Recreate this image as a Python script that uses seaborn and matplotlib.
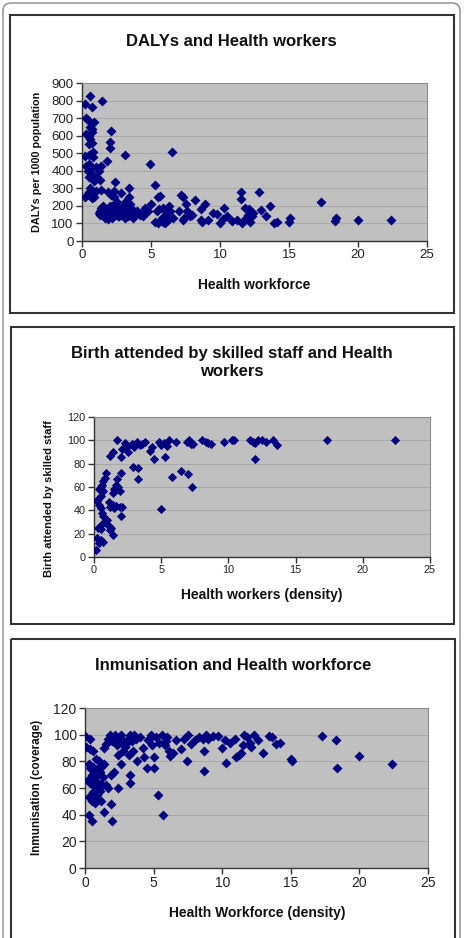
import numpy as np
import pandas as pd
import matplotlib
matplotlib.use("Agg")
import matplotlib.pyplot as plt
import seaborn as sns
from matplotlib.patches import Rectangle, FancyBboxPatch

# -------------------- DATA --------------------
# DALYs per 1000 population vs health workforce density
daly_x = [0.24, 0.56, 0.72, 1.47, 0.3, 0.4, 0.87, 0.6, 0.7, 0.3, 0.5, 0.7, 0.6, 0.75, 0.5,
          2.08, 2.0, 2.0, 0.8, 0.2, 0.5, 0.8, 1.83, 3.09, 6.52, 4.9,
          0.5, 0.65, 0.4, 0.75, 0.5, 1.0, 1.2, 1.35, 1.1, 1.3, 0.9, 0.6, 0.3,
          2.37, 5.3, 3.38, 0.2, 0.5, 0.6, 0.8, 0.9, 1.0, 1.4, 1.9, 2.13, 2.8, 0.4, 0.7, 2.3,
          3.4, 5.63, 5.5, 7.2, 7.35, 8.17,
          11.5, 11.55, 12.8, 13.6, 17.3, 18.3, 18.4, 20.0, 22.4, 15.1, 15.0, 14.1, 13.9, 13.3,
          13.0, 12.3, 12.1, 11.8, 12.2, 11.6, 11.2, 10.9, 10.5, 10.3, 10.0, 9.8, 9.5, 8.9, 8.6, 8.7,
          8.0, 7.8, 7.6, 7.5, 7.3, 7.0, 6.2, 6.3, 6.0, 5.8, 5.6, 5.3, 5.4, 5.0, 4.8, 4.5, 4.2,
          3.9, 3.6, 3.5, 3.3, 3.1, 3.0, 2.8, 2.6, 2.5, 2.3, 2.2, 2.1, 2.0, 1.8, 1.7, 1.6, 1.4,
          1.3, 1.2, 1.9, 2.4, 2.7, 3.2, 3.7, 4.0, 4.6, 5.9, 6.1, 6.4, 6.6, 9.1, 11.9, 12.4,
          1.5, 1.7, 2.0, 2.5, 2.9, 3.4, 3.6, 5.5, 5.9, 7.4, 8.6, 10.2, 12.0, 6.0, 4.3, 1.3,
          1.5, 2.2, 3.3, 3.5, 1.6, 2.3, 2.6, 3.1, 3.8, 4.4, 1.9, 2.9]
daly_y = [780, 824, 761, 796, 700, 690, 680, 650, 640, 610, 600, 620, 580, 560, 550,
          626, 564, 530, 505, 484, 490, 480, 457, 492, 507, 438,
          440, 420, 400, 380, 365, 420, 400, 430, 360, 345, 340, 410, 430,
          336, 317, 303, 249, 280, 300, 270, 250, 287, 290, 280, 264, 273, 265, 245, 285,
          250, 255, 250, 260, 250, 232,
          280, 240, 280, 200, 220, 115, 130, 120, 120, 130, 110, 110, 100, 140,
          175, 140, 180, 190, 110, 105, 120, 115, 140, 190, 105, 155, 160, 210, 185, 110,
          150, 140, 170, 210, 120, 170, 120, 200, 170, 130, 180, 110, 170, 210, 170, 160, 150,
          155, 180, 210, 140, 160, 200, 150, 180, 220, 250, 130, 160, 200, 140, 180, 150, 190,
          170, 160, 180, 150, 140, 230, 130, 170, 190, 190, 150, 170, 130, 120, 130, 160,
          160, 130, 145, 165, 175, 195, 160, 100, 110, 130, 120, 125, 150, 100, 155, 150,
          200, 200, 210, 170, 175, 190, 140, 130, 150, 145, 125, 160]

# Births attended by skilled staff (%) vs health workers density
birth_x = [0.17, 0.2, 0.5, 0.7, 0.4, 0.3, 0.5,
           0.2, 0.3, 0.5, 0.4, 0.5, 0.6, 0.7, 0.8, 0.6, 1.0, 1.1, 1.2, 1.4, 1.3,
           0.4, 0.5, 0.6, 0.7, 0.8, 0.9, 0.7,
           1.1, 1.2, 1.4, 1.5, 1.6, 1.9, 2.1, 2.0,
           1.4, 1.5, 1.6, 1.7, 1.8, 1.9, 2.0,
           1.2, 1.4, 2.0, 1.7, 2.1, 2.3, 2.5, 2.5, 2.8, 3.0, 3.2, 3.4, 3.6, 3.8, 2.9, 3.3, 3.3,
           4.2, 4.3, 4.5, 4.8, 5.0, 5.2, 5.4, 5.6, 5.3, 5.8, 6.1, 6.5, 6.9, 7.1, 7.0, 7.2, 7.3,
           7.4, 5.0, 8.0, 8.3, 8.5, 8.7, 9.7, 10.3, 10.4, 11.6, 11.8, 12.0, 12.2, 12.5, 12.8,
           13.3, 13.6, 12.0, 17.3, 22.4]
birth_y = [6, 16, 15, 13, 12, 25, 24,
           48, 50, 52, 45, 42, 38, 35, 30, 28, 32, 27, 23, 19, 25,
           58, 60, 62, 57, 68, 72, 65,
           47, 43, 45, 42, 44, 43, 43, 35,
           55, 58, 62, 67, 60, 57, 72,
           87, 90, 86, 100, 93, 98, 95, 90, 97, 94, 99, 96, 97, 99, 77, 76, 67,
           91, 94, 84, 99, 96, 98, 95, 100, 86, 69, 99, 74, 99, 100, 71, 97, 60,
           97, 41, 100, 99, 98, 97, 99, 100, 100, 100, 99, 98, 100, 100, 99,
           100, 96, 84, 100, 100]

# Immunisation coverage (%) vs health workforce density
immu_x = [0.0, 0.1, 0.4, 0.4, 0.6,
          0.3, 0.4, 0.6, 0.8, 1.0, 1.2, 1.4, 0.5, 0.9, 1.1, 1.3, 0.4, 0.6, 0.8, 1.0, 1.2,
          0.3, 0.5, 0.7, 0.9, 1.1, 1.5, 1.7, 1.9, 2.1, 2.4, 1.9, 1.2, 0.3, 0.5, 1.4, 2.0, 0.7,
          1.4, 1.5, 1.7, 1.8, 2.0, 2.2, 2.3, 2.4, 2.5, 2.6, 2.8, 2.6, 3.0, 3.1, 3.2, 3.3,
          3.4, 3.5, 3.6, 3.7, 3.8, 4.0, 4.2, 4.3, 4.5, 4.6, 4.8, 4.9, 5.0, 5.0, 5.2, 5.4,
          5.6, 5.8, 6.0, 6.1, 6.2, 6.4, 6.6, 7.0, 7.2, 7.4, 7.5, 7.7, 8.0, 8.3, 8.6, 8.7,
          8.8, 9.0, 9.3, 9.7, 10.0, 10.2, 10.3, 10.6, 10.9, 11.0, 11.2, 11.4, 11.5, 11.6,
          11.8, 12.0, 12.1, 12.3, 12.6, 13.0, 13.4, 13.6, 13.9, 14.2, 15.0, 15.1, 17.3,
          18.3, 18.4, 20.0, 22.4, 8.7, 5.3, 5.7, 3.3, 3.3,
          0.2, 0.6, 0.9, 0.5, 0.8, 2.7, 2.9, 4.7, 5.9]
immu_y = [99, 91, 97, 89, 88,
          78, 75, 76, 82, 80, 76, 78, 70, 70, 72, 68, 64, 62, 65, 60, 63,
          53, 50, 52, 55, 58, 62, 60, 70, 72, 60, 48, 50, 40, 35, 42, 35, 49,
          90, 93, 97, 100, 95, 100, 92, 85, 97, 100, 88, 78, 93, 97, 85, 100,
          95, 88, 100, 97, 80, 98, 90, 83, 75, 96, 100, 92, 83, 75, 98, 94,
          100, 92, 98, 88, 84, 86, 96, 89, 97, 80, 100, 93, 96, 98, 97, 88,
          100, 97, 99, 99, 90, 96, 79, 94, 97, 83, 85, 86, 92, 100,
          98, 94, 91, 100, 96, 86, 99, 98, 93, 94, 82, 80, 99,
          96, 75, 84, 78, 73, 55, 40, 70, 64,
          66, 57, 74, 68, 72, 96, 91, 97, 95]

# -------------------- LAYOUT (pixels) --------------------
W, H = 465, 938
NAVY = "#000080"

sns.set_style("white")
plt.rcParams["font.family"] = ["Liberation Sans", "DejaVu Sans"]

fig = plt.figure(figsize=(W / 100, H / 100), dpi=100)


def px_rect(l, t, r, b):
    return [l / W, 1 - b / H, (r - l) / W, (b - t) / H]


def ptext(x, y, s, **kw):
    fig.text(x / W, 1 - y / H, s, ha="center", va="center", fontweight="bold",
             color="#111111", **kw)


# page frame and panel boxes
bg = fig.add_axes([0, 0, 1, 1])
bg.set_xlim(0, W)
bg.set_ylim(H, 0)
bg.axis("off")
bg.add_patch(FancyBboxPatch((3, 3), 457, 980, boxstyle="round,pad=0,rounding_size=8",
                            fill=False, ec="#888888", lw=1))
for l, t, r, b in [(10, 15, 454, 313), (11, 327, 454, 624), (11, 639, 455, 960)]:
    bg.add_patch(Rectangle((l, t), r - l, b - t, fill=False, ec="#333333", lw=1.5))


def panel(rect, x, y, ymax, ystep, tick_fs, ms):
    ax = fig.add_axes(px_rect(*rect))
    df = pd.DataFrame({"x": x, "y": y})
    sns.scatterplot(data=df, x="x", y="y", marker="D", s=ms, color=NAVY,
                    linewidth=0, ax=ax, zorder=3, legend=False)
    ax.set_facecolor("#C0C0C0")
    ax.set_xlim(0, 25)
    ax.set_ylim(0, ymax)
    ax.set_xticks(range(0, 26, 5))
    ax.set_yticks(np.arange(0, ymax + 1, ystep))
    ax.yaxis.grid(True, color="#A8A8A8", lw=0.7)
    ax.set_axisbelow(True)
    ax.set_xlabel("")
    ax.set_ylabel("")
    for s in ["top", "right"]:
        ax.spines[s].set_color("#8C8C8C")
        ax.spines[s].set_linewidth(0.8)
    for s in ["left", "bottom"]:
        ax.spines[s].set_color("#333333")
        ax.spines[s].set_linewidth(1.0)
    ax.tick_params(direction="out", length=4, width=1, color="#333333",
                   labelsize=tick_fs, labelcolor="#222222", pad=2, left=True, bottom=True)
    return ax


# -------------------- PANEL 1 --------------------
panel((82, 83, 427, 241), daly_x, daly_y, 900, 100, 9.5, 26)
ptext(231, 41, "DALYs and Health workers", fontsize=12)
ptext(254, 285, "Health workforce", fontsize=10)
ptext(37, 162, "DALYs per 1000 population", fontsize=7.8, rotation=90)

# -------------------- PANEL 2 --------------------
panel((94, 417, 430, 557), birth_x, birth_y, 120, 20, 7.8, 22)
ptext(232, 362, "Birth attended by skilled staff and Health\nworkers", fontsize=12,
      linespacing=1.25)
ptext(262, 595, "Health workers (density)", fontsize=10)
ptext(49, 499, "Birth attended by skilled staff", fontsize=8, rotation=90)

# -------------------- PANEL 3 --------------------
panel((85, 708, 428, 868), immu_x, immu_y, 120, 20, 10, 26)
ptext(233, 665, "Inmunisation and Health workforce", fontsize=12)
ptext(257, 913, "Health Workforce (density)", fontsize=10)
ptext(37, 787, "Inmunisation (coverage)", fontsize=8.4, rotation=90)

fig.savefig("out.png", dpi=100)
